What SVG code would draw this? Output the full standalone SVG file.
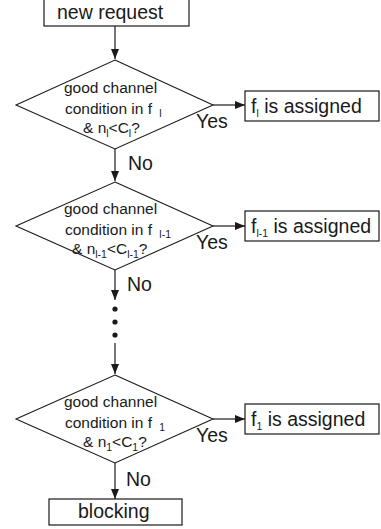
<svg xmlns="http://www.w3.org/2000/svg" width="381" height="529" viewBox="0 0 381 529">
<style>
.box{fill:#fff;stroke:#1a1a1a;stroke-width:1.2}
.dia{fill:#fff;stroke:#1a1a1a;stroke-width:1.1}
.big{font-family:"Liberation Sans",Arial,Helvetica,sans-serif;font-size:19.5px;fill:#1a1a1a}
.mid{font-family:"Liberation Sans",Arial,Helvetica,sans-serif;font-size:15.5px;fill:#1a1a1a}
.sub{font-size:10.5px}
.con{fill:none;stroke:#1a1a1a;stroke-width:1.2}
</style>
<defs>
<marker id="ah" markerWidth="10" markerHeight="8" refX="10" refY="4" orient="auto" markerUnits="userSpaceOnUse">
<path d="M0,0 L10,4 L0,8 z" fill="#1a1a1a"/>
</marker>
</defs>
<g id="connectors">
<line class="con" x1="115" y1="26" x2="115" y2="59" marker-end="url(#ah)"/>
<line class="con" x1="213" y1="105" x2="245" y2="105" marker-end="url(#ah)"/>
<line class="con" x1="115" y1="149" x2="115" y2="181" marker-end="url(#ah)"/>
<line class="con" x1="213" y1="226" x2="245" y2="226" marker-end="url(#ah)"/>
<line class="con" x1="115" y1="270" x2="115" y2="300" marker-end="url(#ah)"/>
<circle cx="115" cy="309" r="2.6" fill="#1a1a1a"/>
<circle cx="115" cy="322" r="2.6" fill="#1a1a1a"/>
<circle cx="115" cy="335" r="2.6" fill="#1a1a1a"/>
<line class="con" x1="115" y1="343" x2="115" y2="374" marker-end="url(#ah)"/>
<line class="con" x1="213" y1="419" x2="245" y2="419" marker-end="url(#ah)"/>
<line class="con" x1="115" y1="463" x2="115" y2="499" marker-end="url(#ah)"/>
<text class="big" x="196" y="128">Yes</text>
<text class="big" x="128" y="170">No</text>
<text class="big" x="196" y="249">Yes</text>
<text class="big" x="127" y="291">No</text>
<text class="big" x="196" y="442">Yes</text>
<text class="big" x="126" y="486">No</text>
</g>
<g id="start">
<rect class="box" x="44" y="-1" width="145" height="27"/>
<text class="big" x="57" y="19">new request</text>
</g>
<g id="decision1">
<polygon class="dia" points="115,60 213,105 115,149 16,105"/>
<text class="mid" x="64" y="93">good channel</text>
<text class="mid" x="65" y="114">condition in f <tspan class="sub" dx="3" dy="3">l</tspan></text>
<text class="mid" x="83" y="133">&amp; n<tspan class="sub" dy="4">l</tspan><tspan dy="-4">&lt;C</tspan><tspan class="sub" dy="4">l</tspan><tspan dy="-4">?</tspan></text>
</g>
<g id="assign1">
<rect class="box" x="245" y="91" width="134" height="30"/>
<text class="big" x="251" y="113">f<tspan class="sub" dy="4">l</tspan><tspan dy="-4"> is assigned</tspan></text>
</g>
<g id="decision2">
<polygon class="dia" points="115,182 213,226 115,270 16,226"/>
<text class="mid" x="64" y="214">good channel</text>
<text class="mid" x="65" y="235">condition in f <tspan class="sub" dx="3" dy="3">l-1</tspan></text>
<text class="mid" x="72" y="254">&amp; n<tspan class="sub" dy="4">l-1</tspan><tspan dy="-4">&lt;C</tspan><tspan class="sub" dy="4">l-1</tspan><tspan dy="-4">?</tspan></text>
</g>
<g id="assign2">
<rect class="box" x="245" y="211" width="134" height="30"/>
<text class="big" x="251" y="233">f<tspan class="sub" dy="4">l-1</tspan><tspan dy="-4"> is assigned</tspan></text>
</g>
<g id="decision3">
<polygon class="dia" points="115,375 213,419 115,463 16,419"/>
<text class="mid" x="64" y="407">good channel</text>
<text class="mid" x="65" y="428">condition in f <tspan class="sub" dx="3" dy="3">1</tspan></text>
<text class="mid" x="83" y="447">&amp; n<tspan class="sub" dy="4">1</tspan><tspan dy="-4">&lt;C</tspan><tspan class="sub" dy="4">1</tspan><tspan dy="-4">?</tspan></text>
</g>
<g id="assign3">
<rect class="box" x="245" y="404" width="134" height="30"/>
<text class="big" x="251" y="426">f<tspan class="sub" dy="4">1</tspan><tspan dy="-4"> is assigned</tspan></text>
</g>
<g id="blocking">
<rect class="box" x="49" y="499" width="133" height="26"/>
<text class="big" x="78" y="518">blocking</text>
</g>
</svg>
